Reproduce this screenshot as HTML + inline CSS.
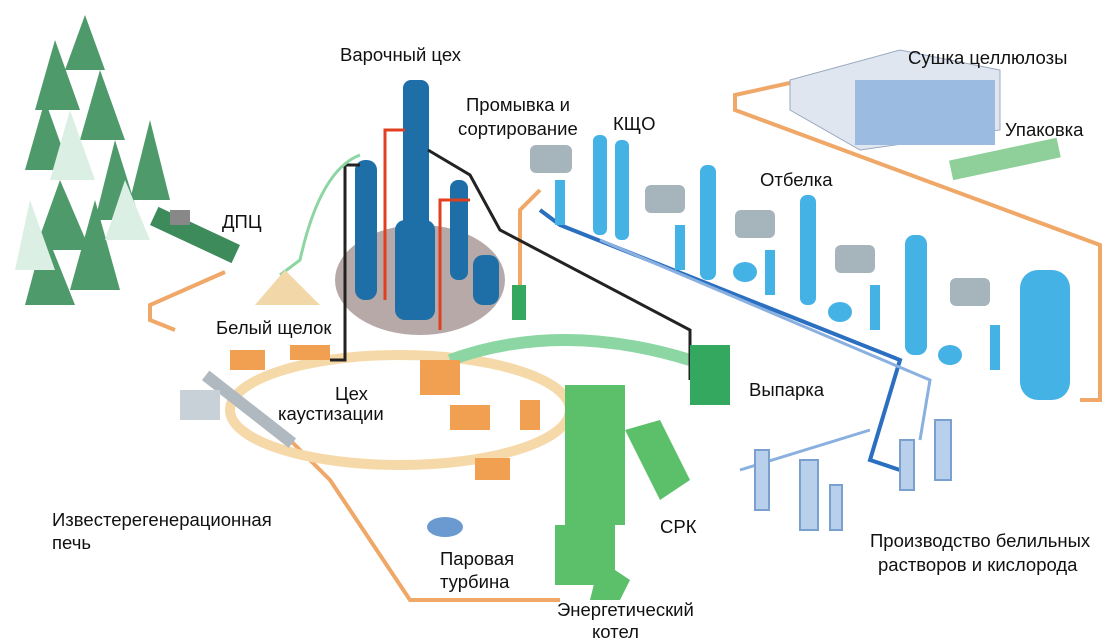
<!DOCTYPE html>
<html><head><meta charset="utf-8"><style>
html,body{margin:0;padding:0;background:#fff;width:1116px;height:641px;overflow:hidden}
svg text{font-family:"Liberation Sans",sans-serif;font-size:18.5px;fill:#111}
</style></head><body>
<svg width="1116" height="641" viewBox="0 0 1116 641" xmlns="http://www.w3.org/2000/svg">
<!-- forest -->
<g fill="#4e9a6a">
<polygon points="85,15 65,70 105,70"/><polygon points="55,40 35,110 80,110"/>
<polygon points="100,70 80,140 125,140"/><polygon points="45,100 25,170 70,170"/>
<polygon points="150,120 130,200 170,200"/><polygon points="60,180 35,250 90,250"/>
<polygon points="115,140 95,220 140,220"/><polygon points="45,230 25,305 75,305"/>
<polygon points="95,200 70,290 120,290"/>
</g>
<g fill="#dcefe4"><polygon points="70,110 50,180 95,180"/><polygon points="125,180 105,240 150,240"/><polygon points="30,200 15,270 55,270"/></g>
<!-- orange big loops -->
<g fill="none" stroke="#f0a868" stroke-width="4">
<path d="M840,72 L735,95 L735,110 L1100,245 L1100,400 L1080,400"/>
<path d="M520,290 L520,210 L540,190"/>
<path d="M225,272 L150,305 L150,320 L175,330"/>
<path d="M290,440 L330,480 L410,600 L560,600"/>
</g>
<!-- caustic ring -->
<ellipse cx="400" cy="410" rx="170" ry="55" fill="none" stroke="#f6d9a8" stroke-width="10"/>
<path d="M450,360 Q560,320 690,360" fill="none" stroke="#8cd6a4" stroke-width="12"/>
<!-- blue lines -->
<g fill="none" stroke="#2a6fc0" stroke-width="4">
<path d="M540,210 L560,225 L900,360 L870,460 L900,470"/>
</g>
<g fill="none" stroke="#8ab0e0" stroke-width="3">
<path d="M600,240 L930,380 L920,440"/><path d="M740,470 L870,430"/>
</g>
<!-- cooking shadow -->
<ellipse cx="420" cy="280" rx="85" ry="55" fill="#b8a9a9"/>
<!-- digesters -->
<g fill="#1e6ea8">
<rect x="355" y="160" width="22" height="140" rx="10"/>
<rect x="403" y="80" width="26" height="240" rx="8"/>
<rect x="395" y="220" width="40" height="100" rx="10"/>
<rect x="450" y="180" width="18" height="100" rx="8"/>
<rect x="473" y="255" width="26" height="50" rx="10"/>
</g>
<g fill="none" stroke="#e04020" stroke-width="3"><path d="M385,300 L385,130 L405,130 M470,200 L440,200 L440,330"/></g>
<g fill="none" stroke="#222" stroke-width="3"><path d="M360,165 L345,165 L345,360 L330,360 M428,150 L470,175 L500,230 L690,330 L690,380"/></g>
<path d="M360,155 Q320,170 300,260 L280,275" fill="none" stroke="#8cd6a4" stroke-width="3"/>
<!-- chips -->
<polygon points="255,305 285,270 320,305" fill="#f2d7a8"/>
<rect x="150" y="225" width="90" height="20" fill="#3d8a5a" transform="rotate(25 195 235)"/>
<rect x="170" y="210" width="20" height="15" fill="#888"/>
<!-- bleaching columns -->
<g fill="#45b2e6">
<rect x="593" y="135" width="14" height="100" rx="6"/><rect x="615" y="140" width="14" height="100" rx="6"/>
<rect x="700" y="165" width="16" height="115" rx="7"/><rect x="800" y="195" width="16" height="110" rx="7"/>
<rect x="905" y="235" width="22" height="120" rx="9"/><rect x="1020" y="270" width="50" height="130" rx="18"/>
<rect x="555" y="180" width="10" height="45"/><rect x="675" y="225" width="10" height="45"/>
<rect x="765" y="250" width="10" height="45"/><rect x="870" y="285" width="10" height="45"/>
<rect x="990" y="325" width="10" height="45"/>
<ellipse cx="745" cy="272" rx="12" ry="10"/><ellipse cx="840" cy="312" rx="12" ry="10"/><ellipse cx="950" cy="355" rx="12" ry="10"/>
</g>
<g fill="#a6b4bc">
<rect x="530" y="145" width="42" height="28" rx="6"/><rect x="645" y="185" width="40" height="28" rx="6"/>
<rect x="735" y="210" width="40" height="28" rx="6"/><rect x="835" y="245" width="40" height="28" rx="6"/>
<rect x="950" y="278" width="40" height="28" rx="6"/>
</g>
<!-- dryer building -->
<polygon points="790,80 900,50 1000,70 1000,130 860,150 790,110" fill="#dfe6f0" stroke="#9aa8c0"/>
<rect x="855" y="80" width="140" height="65" fill="#9bbbe0"/>
<rect x="950" y="150" width="110" height="20" fill="#8fcf9a" transform="rotate(-12 1000 160)"/>
<!-- evaporators -->
<g fill="#35a860"><rect x="690" y="345" width="40" height="60"/><rect x="512" y="285" width="14" height="35"/></g>
<!-- recovery boiler -->
<g fill="#5cbf6a"><rect x="565" y="385" width="60" height="140"/><polygon points="625,430 660,420 690,480 660,500"/><rect x="555" y="525" width="60" height="60"/><polygon points="600,560 630,580 620,600 590,600"/></g>
<!-- orange units -->
<g fill="#f0a050"><rect x="230" y="350" width="35" height="20"/><rect x="290" y="345" width="40" height="15"/><rect x="420" y="360" width="40" height="35"/><rect x="450" y="405" width="40" height="25"/><rect x="520" y="400" width="20" height="30"/><rect x="475" y="458" width="35" height="22"/></g>
<!-- kiln -->
<rect x="170" y="395" width="110" height="12" fill="#b0b8c0" transform="rotate(38 225 440)"/>
<rect x="180" y="390" width="40" height="30" fill="#c8d0d8"/>
<!-- turbine -->
<ellipse cx="445" cy="527" rx="18" ry="10" fill="#6a9ad0"/>
<!-- chemical plant -->
<g fill="#b8d0ec" stroke="#7aa0d0" stroke-width="2"><rect x="755" y="450" width="14" height="60"/><rect x="800" y="460" width="18" height="70"/><rect x="830" y="485" width="12" height="45"/><rect x="900" y="440" width="14" height="50"/><rect x="935" y="420" width="16" height="60"/></g>
<!-- labels -->
<text x="340" y="61">Варочный цех</text>
<text x="908" y="64">Сушка целлюлозы</text>
<text x="466" y="111">Промывка и</text>
<text x="458" y="135">сортирование</text>
<text x="613" y="130">КЩО</text>
<text x="1005" y="136">Упаковка</text>
<text x="760" y="186">Отбелка</text>
<text x="222" y="228">ДПЦ</text>
<text x="216" y="334">Белый щелок</text>
<text x="335" y="400">Цех</text>
<text x="278" y="420">каустизации</text>
<text x="749" y="396">Выпарка</text>
<text x="52" y="526">Известерегенерационная</text>
<text x="52" y="549">печь</text>
<text x="660" y="533">СРК</text>
<text x="870" y="547">Производство белильных</text>
<text x="878" y="571">растворов и кислорода</text>
<text x="440" y="565">Паровая</text>
<text x="440" y="588">турбина</text>
<text x="557" y="616">Энергетический</text>
<text x="592" y="638">котел</text>
</svg>
</body></html>
